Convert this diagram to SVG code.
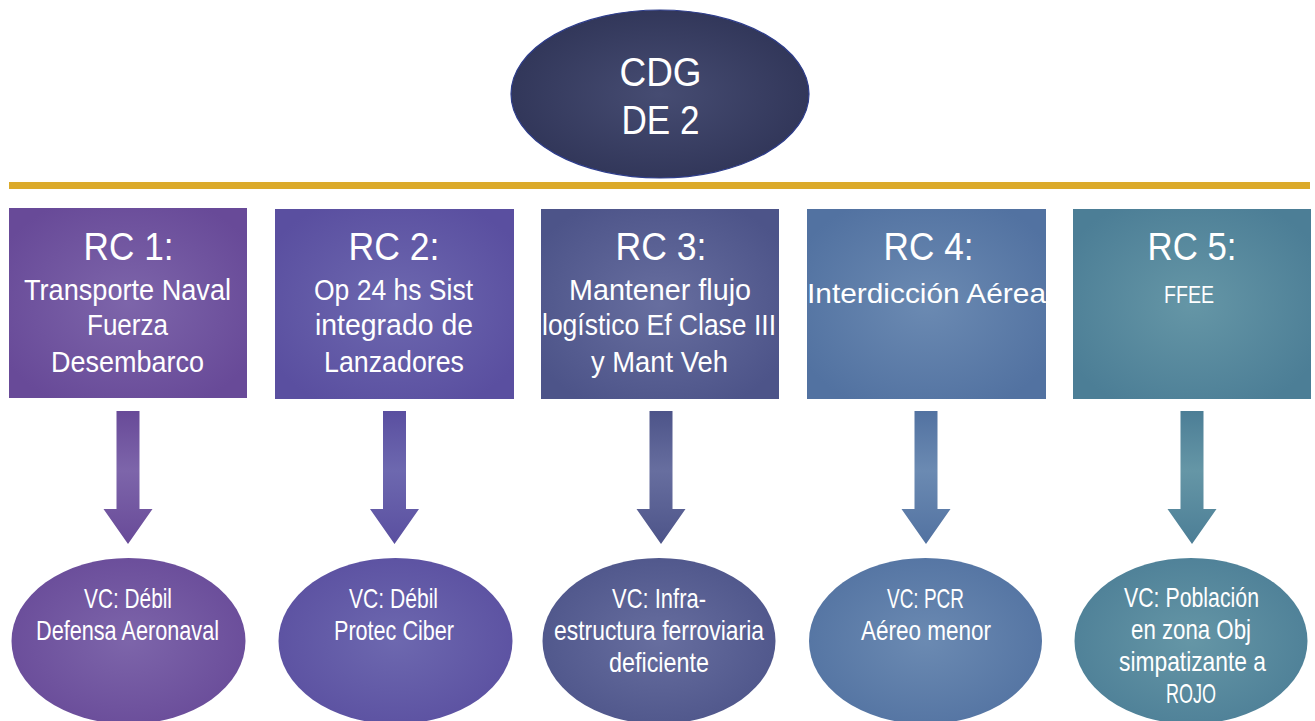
<svg xmlns="http://www.w3.org/2000/svg" width="1315" height="721" viewBox="0 0 1315 721">
<defs>
<radialGradient id="gTop" cx="0.5" cy="0.5" r="0.5"><stop offset="0" stop-color="#464C72"/><stop offset="1" stop-color="#32375A"/></radialGradient>
<radialGradient id="g1" cx="0.5" cy="0.5" r="0.6"><stop offset="0" stop-color="#7D65AA"/><stop offset="1" stop-color="#684A98"/></radialGradient>
<radialGradient id="g2" cx="0.5" cy="0.5" r="0.6"><stop offset="0" stop-color="#6D68AF"/><stop offset="1" stop-color="#5A4FA0"/></radialGradient>
<radialGradient id="g3" cx="0.5" cy="0.5" r="0.6"><stop offset="0" stop-color="#676E9F"/><stop offset="1" stop-color="#4D5489"/></radialGradient>
<radialGradient id="g4" cx="0.5" cy="0.5" r="0.6"><stop offset="0" stop-color="#6B8AB2"/><stop offset="1" stop-color="#5272A1"/></radialGradient>
<radialGradient id="g5" cx="0.5" cy="0.5" r="0.6"><stop offset="0" stop-color="#6596A6"/><stop offset="1" stop-color="#4C7E96"/></radialGradient>
<linearGradient id="a1" x1="0" y1="0" x2="0" y2="1"><stop offset="0" stop-color="#684A98"/><stop offset="0.45" stop-color="#7D65AA"/><stop offset="1" stop-color="#684A98"/></linearGradient>
<linearGradient id="a2" x1="0" y1="0" x2="0" y2="1"><stop offset="0" stop-color="#5A4FA0"/><stop offset="0.45" stop-color="#6D68AF"/><stop offset="1" stop-color="#5A4FA0"/></linearGradient>
<linearGradient id="a3" x1="0" y1="0" x2="0" y2="1"><stop offset="0" stop-color="#4D5489"/><stop offset="0.45" stop-color="#676E9F"/><stop offset="1" stop-color="#4D5489"/></linearGradient>
<linearGradient id="a4" x1="0" y1="0" x2="0" y2="1"><stop offset="0" stop-color="#5272A1"/><stop offset="0.45" stop-color="#6B8AB2"/><stop offset="1" stop-color="#5272A1"/></linearGradient>
<linearGradient id="a5" x1="0" y1="0" x2="0" y2="1"><stop offset="0" stop-color="#4C7E96"/><stop offset="0.45" stop-color="#6596A6"/><stop offset="1" stop-color="#4C7E96"/></linearGradient>
</defs>
<style>
text{fill:#FFFFFF;font-family:"Liberation Sans",Arial,sans-serif;text-anchor:middle}
.top{font-size:41px}
.h{font-size:39px}
.b{font-size:30px}
.b4{font-size:28px}
.b5{font-size:24px}
.v{font-size:28px}
</style>
<rect x="0" y="0" width="1315" height="721" fill="#FFFFFF"/>
<g id="cdg">
<ellipse cx="660" cy="94" rx="149" ry="84" fill="url(#gTop)" stroke="#2F3E8C" stroke-width="1.2"/>
<text class="top" x="660.5" y="86" textLength="82" lengthAdjust="spacingAndGlyphs">CDG</text>
<text class="top" x="660.5" y="134" textLength="78" lengthAdjust="spacingAndGlyphs">DE 2</text>
</g>
<g id="bar"><rect x="9" y="182" width="1301" height="7" fill="#DBAA2B"/></g>
<g id="rc1">
<rect x="9" y="208" width="238" height="190" fill="url(#g1)"/>
<text class="h" x="128.5" y="260" textLength="90" lengthAdjust="spacingAndGlyphs">RC 1:</text>
<text class="b" x="127.5" y="300" textLength="207" lengthAdjust="spacingAndGlyphs">Transporte Naval</text>
<text class="b" x="127.5" y="335" textLength="81" lengthAdjust="spacingAndGlyphs">Fuerza</text>
<text class="b" x="127.5" y="372" textLength="153" lengthAdjust="spacingAndGlyphs">Desembarco</text>
</g>
<g id="rc2">
<rect x="275" y="209" width="239" height="190" fill="url(#g2)"/>
<text class="h" x="394" y="260" textLength="91" lengthAdjust="spacingAndGlyphs">RC 2:</text>
<text class="b" x="393.5" y="300" textLength="159" lengthAdjust="spacingAndGlyphs">Op 24 hs Sist</text>
<text class="b" x="394" y="335" textLength="158" lengthAdjust="spacingAndGlyphs">integrado de</text>
<text class="b" x="394" y="372" textLength="140" lengthAdjust="spacingAndGlyphs">Lanzadores</text>
</g>
<g id="rc3">
<rect x="541" y="209" width="238" height="190" fill="url(#g3)"/>
<text class="h" x="661" y="260" textLength="91" lengthAdjust="spacingAndGlyphs">RC 3:</text>
<text class="b" x="660" y="300" textLength="182" lengthAdjust="spacingAndGlyphs">Mantener flujo</text>
<text class="b" x="659" y="335" textLength="234" lengthAdjust="spacingAndGlyphs">logístico Ef Clase III</text>
<text class="b" x="659.5" y="372" textLength="137" lengthAdjust="spacingAndGlyphs">y Mant Veh</text>
</g>
<g id="rc4">
<rect x="807" y="209" width="239" height="190" fill="url(#g4)"/>
<text class="h" x="928.5" y="260" textLength="90" lengthAdjust="spacingAndGlyphs">RC 4:</text>
<text class="b4" x="926.5" y="303" textLength="239" lengthAdjust="spacingAndGlyphs">Interdicción Aérea</text>
</g>
<g id="rc5">
<rect x="1073" y="209" width="238" height="190" fill="url(#g5)"/>
<text class="h" x="1192" y="260" textLength="89" lengthAdjust="spacingAndGlyphs">RC 5:</text>
<text class="b5" x="1189" y="303" textLength="50" lengthAdjust="spacingAndGlyphs">FFEE</text>
</g>
<g id="connectors">
<path d="M116.5 411 H139.5 V509 H152.5 L128 544 L103.5 509 H116.5 Z" fill="url(#a1)"/>
<path d="M383 411 H406 V509 H419 L394.5 544 L370 509 H383 Z" fill="url(#a2)"/>
<path d="M649.5 411 H672.5 V509 H685.5 L661 544 L636.5 509 H649.5 Z" fill="url(#a3)"/>
<path d="M914.5 411 H937.5 V509 H950.5 L926 544 L901.5 509 H914.5 Z" fill="url(#a4)"/>
<path d="M1180.5 411 H1203.5 V509 H1216.5 L1192 544 L1167.5 509 H1180.5 Z" fill="url(#a5)"/>
</g>
<g id="vc1">
<ellipse cx="128.5" cy="641" rx="117" ry="83" fill="url(#g1)"/>
<text class="v" x="128" y="608" textLength="88" lengthAdjust="spacingAndGlyphs">VC: Débil</text>
<text class="v" x="127.5" y="640" textLength="183" lengthAdjust="spacingAndGlyphs">Defensa Aeronaval</text>
</g>
<g id="vc2">
<ellipse cx="395.5" cy="641" rx="117" ry="83" fill="url(#g2)"/>
<text class="v" x="393.5" y="608" textLength="89" lengthAdjust="spacingAndGlyphs">VC: Débil</text>
<text class="v" x="394" y="640" textLength="120" lengthAdjust="spacingAndGlyphs">Protec Ciber</text>
</g>
<g id="vc3">
<ellipse cx="659" cy="641" rx="116.5" ry="83" fill="url(#g3)"/>
<text class="v" x="659" y="608" textLength="94" lengthAdjust="spacingAndGlyphs">VC: Infra-</text>
<text class="v" x="659" y="640" textLength="210" lengthAdjust="spacingAndGlyphs">estructura ferroviaria</text>
<text class="v" x="659" y="672" textLength="100" lengthAdjust="spacingAndGlyphs">deficiente</text>
</g>
<g id="vc4">
<ellipse cx="925.5" cy="641" rx="116.5" ry="83" fill="url(#g4)"/>
<text class="v" x="925.5" y="608" textLength="77" lengthAdjust="spacingAndGlyphs">VC: PCR</text>
<text class="v" x="926" y="640" textLength="130" lengthAdjust="spacingAndGlyphs">Aéreo menor</text>
</g>
<g id="vc5">
<ellipse cx="1191" cy="641" rx="116.5" ry="83" fill="url(#g5)"/>
<text class="v" x="1191.5" y="607" textLength="135" lengthAdjust="spacingAndGlyphs">VC: Población</text>
<text class="v" x="1191" y="639" textLength="120" lengthAdjust="spacingAndGlyphs">en zona Obj</text>
<text class="v" x="1192.5" y="671" textLength="147" lengthAdjust="spacingAndGlyphs">simpatizante a</text>
<text class="v" x="1191" y="703" textLength="50" lengthAdjust="spacingAndGlyphs">ROJO</text>
</g>
</svg>
